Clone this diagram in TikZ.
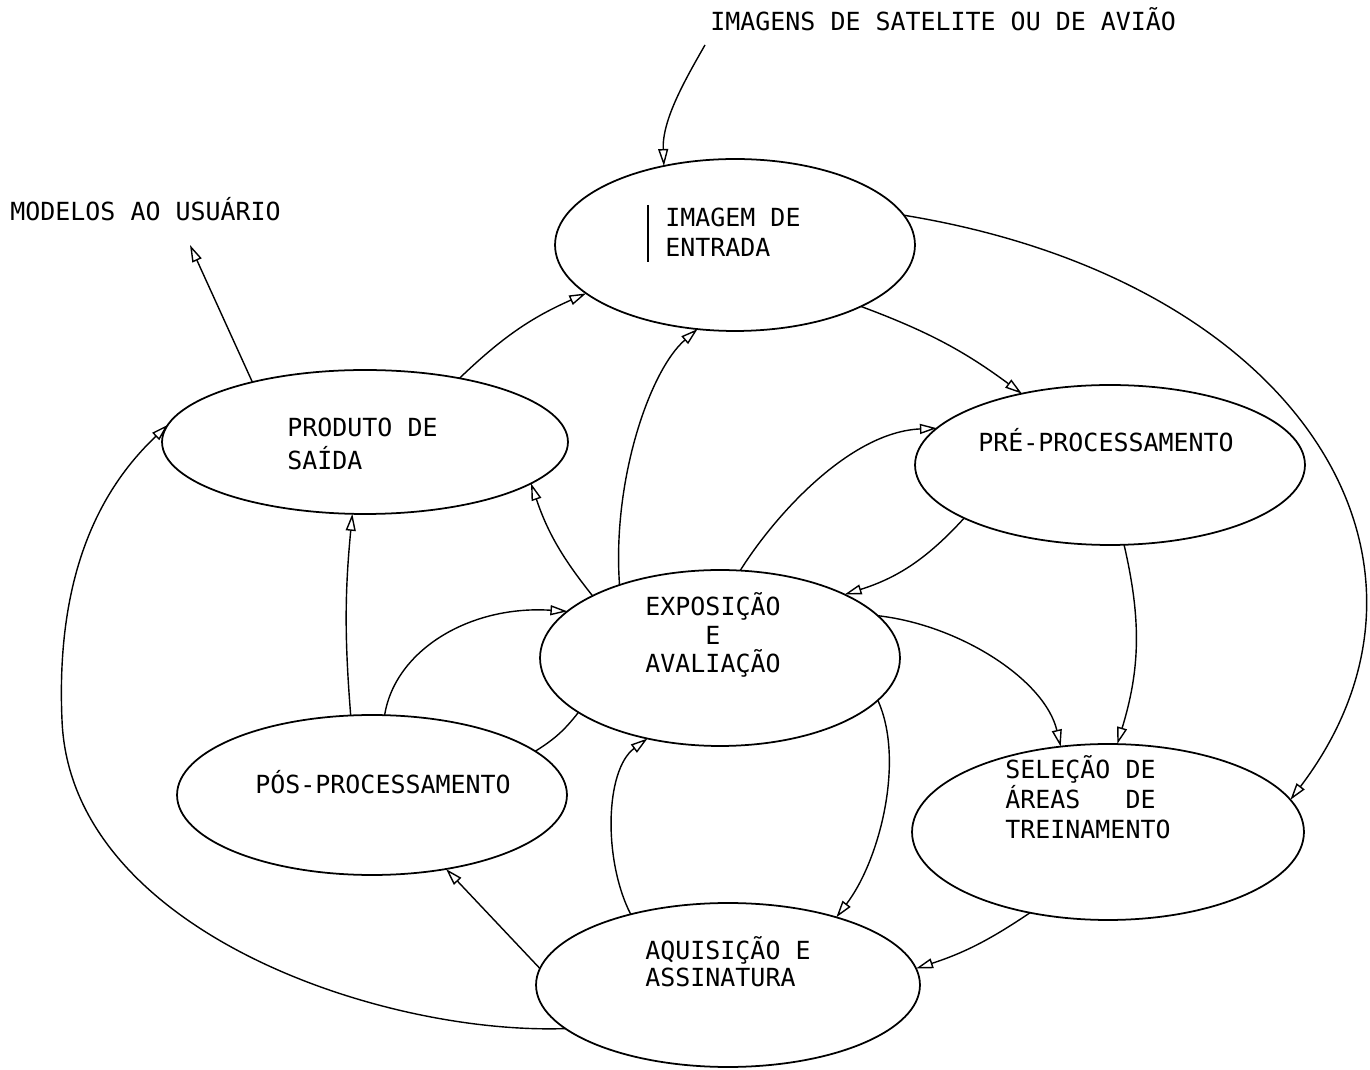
\documentclass[tikz,border=0pt]{standalone}
\usepackage{fontspec}
\setmainfont{DejaVu Sans Mono}
\usetikzlibrary{shapes.geometric,arrows.meta}
\begin{document}
\begin{tikzpicture}[x=0.02cm,y=-0.02cm,
 ell/.style={draw,ellipse,inner sep=0pt,outer sep=0pt,line width=1pt},
 lbl/.style={anchor=base west,inner sep=0pt,font=\fontsize{14.2}{17}\selectfont},
 lblc/.style={anchor=base,inner sep=0pt,font=\fontsize{14.2}{17}\selectfont},
 conn/.style={line width=0.8pt,-{Triangle[open,length=0.34cm,width=0.2cm]}},
 plain/.style={line width=0.8pt}]
\useasboundingbox (0,0) rectangle (1370,1070);
% ellipses
\node[ell,minimum width=7.2cm,minimum height=3.44cm] (A) at (735,245) {};
\node[ell,minimum width=8.12cm,minimum height=2.88cm] (B) at (365,442) {};
\node[ell,minimum width=7.8cm,minimum height=3.2cm] (C) at (1110,465) {};
\node[ell,minimum width=7.2cm,minimum height=3.52cm] (D) at (720,658) {};
\node[ell,minimum width=7.8cm,minimum height=3.2cm] (E) at (372,795) {};
\node[ell,minimum width=7.84cm,minimum height=3.52cm] (F) at (1108,832) {};
\node[ell,minimum width=7.68cm,minimum height=3.28cm] (G) at (728,985) {};
% texts
\node[lbl] (tIn) at (710,31) {IMAGENS DE SATELITE OU DE AVIÃO};
\node[lbl] (tOut) at (10,221) {MODELOS AO USUÁRIO};
\node[lbl] (tA1) at (665,227) {IMAGEM DE};
\node[lbl] (tA2) at (665,257) {ENTRADA};
\node[lbl] (tB1) at (287,437) {PRODUTO DE};
\node[lbl] (tB2) at (287,470) {SAÍDA};
\node[lbl] (tC) at (978,452) {PRÉ-PROCESSAMENTO};
\node[lblc] (tD1) at (713,616) {EXPOSIÇÃO};
\node[lblc] (tD2) at (713,645) {E};
\node[lblc] (tD3) at (713,673) {AVALIAÇÃO};
\node[lbl] (tE) at (255,794) {PÓS-PROCESSAMENTO};
\node[lbl] (tF1) at (1005,779) {SELEÇÃO DE};
\node[lbl] (tF2) at (1005,809) {ÁREAS\ \ \ DE};
\node[lbl] (tF3) at (1005,839) {TREINAMENTO};
\node[lbl] (tG1) at (645,959) {AQUISIÇÃO E};
\node[lbl] (tG2) at (645,987) {ASSINATURA};
\draw[plain] (648,205) -- (648,262);
% connectors
\coordinate (inS) at (705,45);
\coordinate (outU) at (190,245);
\draw[conn] (inS) .. controls (685,80) and (662,120) .. (A.132);
\draw[conn] (B.152) -- (outU);
\draw[conn] (B.34) to[bend left=10] (A.198);
\draw[conn] (D.144) .. controls (612,480) and (650,370) .. (A.246);
\draw[conn] (A.334) to[bend left=8] (C.141);
\draw[conn] (A.10) .. controls (1300,280) and (1472,560) .. (F.10);
\draw[conn] (D.77) .. controls (775,515) and (850,432) .. (C.168);
\draw[conn] (C.200) to[bend left=15] (D.27);
\draw[conn] (C.280) to[bend left=15] (F.84);
\draw[conn] (D.15) .. controls (960,625) and (1045,680) .. (F.119);
\draw[conn] (D.154) to[bend left=10] (B.346);
\draw[conn] (E.105) to[bend left=5] (B.260);
\draw[conn] (E.81) .. controls (395,650) and (470,605) .. (D.163);
\draw[plain] (D.201) to[bend left=10] (E.15);
\draw[conn] (G.144) .. controls (603,860) and (605,770) .. (D.228);
\draw[conn] (D.345) .. controls (905,760) and (880,860) .. (G.32);
\draw[conn] (F.226) to[bend left=8] (G.5);
\draw[conn] (G.175) -- (E.315);
\draw[conn] (G.195) .. controls (380,1035) and (70,930) .. (62,720) .. controls (55,560) and (110,480) .. (B.175);
\end{tikzpicture}
\end{document}
